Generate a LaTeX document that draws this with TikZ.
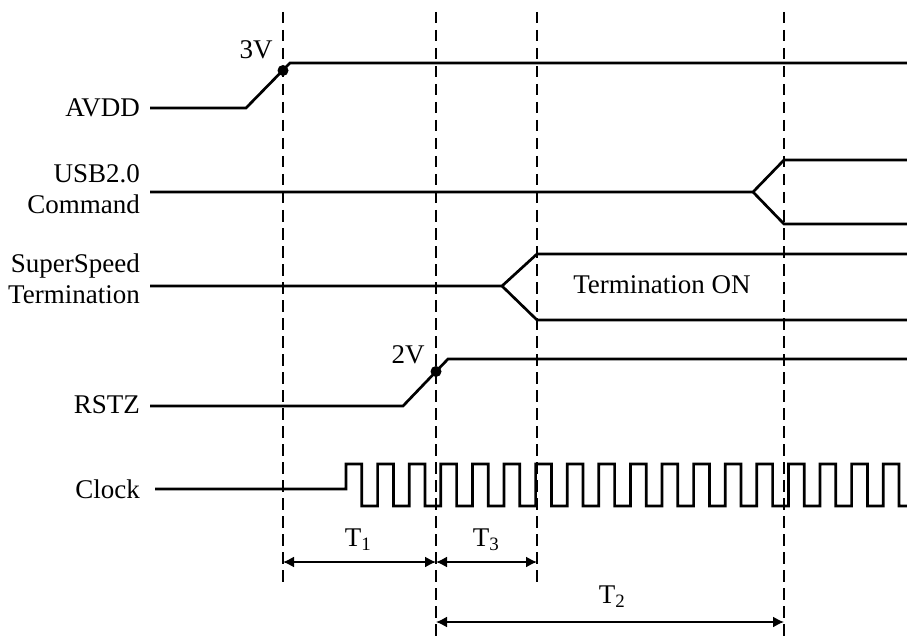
\documentclass[tikz,border=0pt]{standalone}
\usepackage{fontspec}
\setmainfont{Liberation Serif}
\usetikzlibrary{arrows.meta}
\begin{document}
\begin{tikzpicture}[x=1pt,y=-1pt,
  sig/.style={line width=2.7pt, line join=miter},
  guide/.style={line width=1.4pt, dash pattern=on 11.5pt off 6.5pt},
  dim/.style={line width=1.6pt, {Latex[length=11pt,width=11pt]}-{Latex[length=11pt,width=11pt]}},
  lbl/.style={font=\fontsize{27}{31}\selectfont, inner sep=0pt},
  dot/.style={circle, fill, inner sep=0pt, minimum size=11pt}]
\useasboundingbox (0,0) rectangle (907,639);

% dashed guides
\foreach \n/\x/\b in {ga/283/585, gb/436/639, gc/537/585, gd/784/639} {
  \coordinate (\n top) at (\x,12);
  \coordinate (\n bot) at (\x,\b);
  \draw[guide] (\n top) -- (\n bot);
}

% labels
\node[lbl, anchor=east] (avdd) at (140,108) {AVDD};
\node[lbl, anchor=east, align=right] (usb) at (140,189) {USB2.0\\Command};
\node[lbl, anchor=east, align=right] (ss) at (140,279) {SuperSpeed\\Termination};
\node[lbl, anchor=east] (rstz) at (140,405) {RSTZ};
\node[lbl, anchor=east] (clk) at (140,489) {Clock};

% AVDD
\draw[sig] (150,108) -- (246,108) -- (290,63) -- (907,63);
\node[dot] (d3v) at (283,70.5) {};
\node[lbl] (v3) at (256,50) {3V};

% USB2.0 command
\draw[sig] (150,192) -- (753,192) -- (784,160) -- (907,160);
\draw[sig] (753,192) -- (784,224) -- (907,224);

% SuperSpeed termination
\draw[sig] (150,286) -- (502,286) -- (537,254) -- (907,254);
\draw[sig] (502,286) -- (537,320) -- (907,320);
\node[lbl] (ton) at (662,285) {Termination ON};

% RSTZ
\draw[sig] (150,406) -- (403,406) -- (448,359) -- (907,359);
\node[dot] (d2v) at (436,371.5) {};
\node[lbl] (v2) at (408,355) {2V};

% Clock
\draw[sig] (155,489) -- (346,489)
  foreach \k in {0,...,16} {
    -- ({346+31.6*\k},464) -- ({361.8+31.6*\k},464)
    -- ({361.8+31.6*\k},506) -- ({377.6+31.6*\k},506)
  }
  -- (883.2,464) -- (899,464) -- (899,506) -- (907,506);

% timing arrows
\coordinate (t1a) at (283,562);
\coordinate (t1b) at (436,562);
\coordinate (t3b) at (537,562);
\coordinate (t2a) at (436,622);
\coordinate (t2b) at (784,622);
\draw[dim] (t1a) -- (t1b);
\draw[dim] (t1b) -- (t3b);
\draw[dim] (t2a) -- (t2b);
\node[lbl] (lt1) at (358,540) {T\textsubscript{1}};
\node[lbl] (lt3) at (486,540) {T\textsubscript{3}};
\node[lbl] (lt2) at (612,597) {T\textsubscript{2}};
\end{tikzpicture}
\end{document}
